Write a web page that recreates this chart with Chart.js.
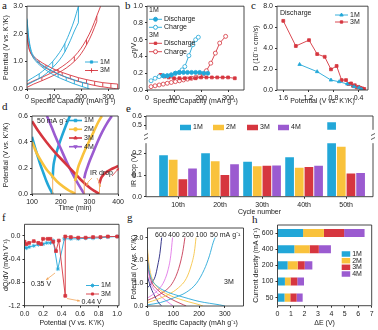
<!DOCTYPE html>
<html>
<head>
<meta charset="utf-8">
<script src="https://cdn.jsdelivr.net/npm/chart.js@4.4.1/dist/chart.umd.min.js"></script>
<style>
  body { margin: 0; background: #fff; width: 378px; height: 330px; overflow: hidden; position: relative; }
  canvas { position: absolute; }
  .lbl { position: absolute; font-family: "Liberation Serif", "Times New Roman", serif; font-size: 11px; color: #111; line-height: 11px; }
</style>
</head>
<body>
<div class="lbl" style="left:2px;top:0px">a</div>
<div class="lbl" style="left:125px;top:0px">b</div>
<div class="lbl" style="left:251px;top:0px">c</div>
<div class="lbl" style="left:2px;top:101px">d</div>
<div class="lbl" style="left:126px;top:103px">e</div>
<div class="lbl" style="left:2px;top:212px">f</div>
<div class="lbl" style="left:127px;top:212px">g</div>
<div class="lbl" style="left:252px;top:214px">h</div>
<script>
// ---- a: GITT curves (capacity, potential) ----
const aCap1D1 = [0, 4, 10, 20, 35, 55, 80, 110, 140, 170, 200, 220, 232];
const aV1D1 = [2.5, 2.0, 1.55, 1.2, 0.98, 0.8, 0.62, 0.45, 0.32, 0.2, 0.1, 0.04, 0.0];
const aCap1D2 = [0, 6, 14, 25, 40, 60, 85, 115, 145, 175, 205, 225];
const aV1D2 = [2.55, 1.9, 1.45, 1.18, 1.0, 0.85, 0.7, 0.55, 0.43, 0.33, 0.24, 0.2];
const aRung1D = [40, 60, 85, 115, 145, 175, 205, 225];
const aRung1DLo = [0.94, 0.77, 0.6, 0.43, 0.3, 0.18, 0.08, 0.02];
const aRung1DHi = [1.0, 0.85, 0.7, 0.55, 0.43, 0.33, 0.24, 0.2];
const aCap1C1 = [0, 20, 45, 70, 95, 120, 140, 160, 175, 190];
const aV1C1 = [0.15, 0.25, 0.38, 0.55, 0.78, 1.05, 1.35, 1.75, 2.1, 2.4];
const aCap1C2 = [0, 20, 45, 70, 95, 120, 140, 160, 175, 190];
const aV1C2 = [0.28, 0.4, 0.55, 0.75, 1.0, 1.32, 1.65, 2.1, 2.5, 3.0];
const aRung1C = [45, 95, 140, 190];
const aRung1CLo = [0.38, 0.78, 1.35, 2.4];
const aRung1CHi = [0.55, 1.0, 1.65, 3.0];
const aCap3D1 = [0, 3, 8, 18, 35, 60, 90, 120, 150, 180, 210, 240, 270, 300, 320, 335];
const aV3D1 = [2.0, 1.7, 1.45, 1.22, 1.02, 0.82, 0.65, 0.52, 0.4, 0.3, 0.22, 0.15, 0.09, 0.05, 0.02, 0.0];
const aCap3D2 = [0, 5, 12, 25, 45, 70, 100, 130, 160, 190, 220, 250, 280, 310, 335];
const aV3D2 = [2.1, 1.6, 1.35, 1.18, 1.02, 0.87, 0.72, 0.6, 0.5, 0.41, 0.34, 0.28, 0.23, 0.2, 0.18];
const aRung3D = [45, 70, 100, 130, 160, 190, 220, 250, 280, 310, 335];
const aRung3DLo = [0.94, 0.77, 0.61, 0.48, 0.37, 0.27, 0.2, 0.13, 0.08, 0.04, 0.0];
const aRung3DHi = [1.02, 0.87, 0.72, 0.6, 0.5, 0.41, 0.34, 0.28, 0.23, 0.2, 0.18];
const aCap3C1 = [0, 25, 55, 85, 115, 145, 175, 200, 220, 240, 258];
const aV3C1 = [0.06, 0.18, 0.3, 0.43, 0.58, 0.76, 1.0, 1.28, 1.6, 2.0, 2.45];
const aCap3C2 = [0, 25, 55, 85, 115, 145, 175, 200, 220, 240, 258, 272];
const aV3C2 = [0.18, 0.3, 0.42, 0.56, 0.72, 0.92, 1.18, 1.48, 1.8, 2.2, 2.65, 3.0];
const aRung3C = [55, 115, 175, 220, 258];
const aRung3CLo = [0.3, 0.58, 1.0, 1.6, 2.45];
const aRung3CHi = [0.42, 0.72, 1.18, 1.8, 2.65];

// ---- b: overpotential ----
const bCap1D = [60, 75, 90, 105, 120, 135, 150, 165, 180, 195, 210, 225];
const bEta1D = [0.17, 0.17, 0.18, 0.2, 0.21, 0.21, 0.21, 0.21, 0.21, 0.21, 0.2, 0.2];
const bCap1C = [15, 30, 45, 60, 75, 90, 105, 120, 130, 140, 155, 170, 180, 190];
const bEta1C = [0.11, 0.14, 0.16, 0.17, 0.17, 0.18, 0.2, 0.21, 0.24, 0.28, 0.41, 0.54, 0.6, 0.63];
const bCap3D = [50, 65, 80, 100, 120, 140, 160, 180, 200, 220, 240, 260, 280, 300, 325];
const bEta3D = [0.18, 0.16, 0.15, 0.14, 0.14, 0.14, 0.14, 0.14, 0.15, 0.15, 0.15, 0.15, 0.15, 0.15, 0.14];
const bCap3C = [15, 30, 45, 60, 75, 90, 105, 120, 135, 150, 165, 180, 195, 208, 220, 236, 253, 269, 291];
const bEta3C = [0.04, 0.05, 0.06, 0.07, 0.08, 0.09, 0.1, 0.11, 0.12, 0.13, 0.14, 0.15, 0.17, 0.19, 0.23, 0.32, 0.44, 0.56, 0.64];

// ---- c: diffusion coefficient ----
const cV1 = [1.34, 1.06, 0.84, 0.71, 0.58, 0.47, 0.39, 0.35];
const cD1 = [2.44, 1.75, 0.95, 0.79, 0.57, 0.32, 0.22, 0.06];
const cV3 = [1.6, 1.4, 1.19, 1.06, 0.94, 0.84, 0.75, 0.67, 0.6, 0.56, 0.52, 0.49, 0.46, 0.43, 0.4, 0.37, 0.34, 0.31];
const cD3 = [6.6, 4.2, 4.76, 3.43, 3.17, 1.97, 2.29, 0.95, 0.95, 0.57, 0.63, 0.4, 0.45, 0.25, 0.3, 0.2, 0.15, 0.1];

// ---- d: time vs potential ----
const dT1D = [100, 110, 120, 130, 140, 150, 160, 172];
const dV1D = [0.44, 0.36, 0.29, 0.22, 0.16, 0.1, 0.05, 0.0];
const dT1C = [172, 174, 178, 188, 200, 215, 232];
const dV1C = [0.12, 0.2, 0.26, 0.34, 0.42, 0.51, 0.6];
const dT2D = [100, 115, 130, 150, 170, 190, 210, 230, 245, 250];
const dV2D = [0.4, 0.32, 0.26, 0.19, 0.14, 0.09, 0.055, 0.025, 0.008, 0.0];
const dT2C = [250, 255, 260, 270, 285, 300, 315, 330, 343];
const dV2C = [0.1, 0.15, 0.2, 0.26, 0.34, 0.41, 0.48, 0.55, 0.6];
const dT3D = [100, 120, 150, 180, 210, 240, 270, 300, 320, 335];
const dV3D = [0.56, 0.49, 0.4, 0.32, 0.25, 0.18, 0.11, 0.05, 0.02, 0.0];
const dT3C = [335, 340, 350, 360, 375, 390, 400];
const dV3C = [0.08, 0.12, 0.15, 0.17, 0.19, 0.205, 0.215];
const dT4D = [152, 160, 180, 200, 220, 240, 260, 275, 282];
const dV4D = [0.6, 0.56, 0.45, 0.35, 0.25, 0.16, 0.08, 0.025, 0.0];
const dT4C = [282, 286, 292, 300, 315, 330, 345, 360, 378];
const dV4C = [0.12, 0.16, 0.2, 0.25, 0.33, 0.41, 0.48, 0.54, 0.6];
const dIrT = [172, 250, 282, 335];
const dIrTop = [0.12, 0.1, 0.12, 0.08];

// ---- e: IR drop bars ----
const eCycles = ['10th', '20th', '30th', '40th', '50th'];
const e1M = [0.192, 0.201, 0.162, 0.183, 0.531];
const e2M = [0.171, 0.164, 0.141, 0.134, 0.231];
const e3M = [0.081, 0.101, 0.144, 0.138, 0.108];
const e4M = [0.131, 0.150, 0.145, 0.143, 0.110];

// ---- f: dQ/dV ----
const fV1 = [0, 0.02, 0.05, 0.1, 0.15, 0.2, 0.24, 0.28, 0.31, 0.36, 0.43, 0.5, 0.58, 0.66, 0.74, 0.82, 0.9, 1.0];
const fQ1 = [-0.2, -0.21, -0.19, -0.17, -0.15, -0.14, -0.12, -0.12, -0.08, -0.57, -0.05, -0.05, -0.05, -0.04, -0.04, -0.03, -0.02, -0.01];
const fV3 = [0, 0.02, 0.05, 0.1, 0.15, 0.18, 0.2, 0.25, 0.28, 0.31, 0.34, 0.37, 0.44, 0.44, 0.5, 0.58, 0.66, 0.74, 0.82, 0.9, 1.0];
const fQ3 = [-0.1, -0.14, -0.12, -0.09, -0.12, -0.14, -0.05, -0.05, -0.05, -0.1, -0.26, -0.08, -1.03, -0.01, -0.02, -0.03, -0.03, -0.02, -0.02, -0.01, -0.01];

// ---- g: rate curves, 3M ----
const gRates = ['600', '400', '200', '100', '50'];
const g600DC = [0, 10, 25, 40, 50, 55], g600DV = [1.3, 0.9, 0.5, 0.2, 0.05, 0.0];
const g600CC = [0, 15, 30, 40, 48, 55], g600CV = [0.8, 1.0, 1.3, 1.8, 2.3, 3.0];
const g400DC = [0, 5, 15, 40, 70, 90, 100], g400DV = [2.0, 1.4, 0.95, 0.55, 0.25, 0.08, 0.0];
const g400CC = [0, 20, 45, 65, 80, 90, 97], g400CV = [0.35, 0.5, 0.75, 1.1, 1.6, 2.2, 3.0];
const g200DC = [0, 5, 15, 40, 80, 110, 140, 150], g200DV = [2.3, 1.6, 1.1, 0.7, 0.38, 0.2, 0.05, 0.0];
const g200CC = [0, 30, 60, 90, 110, 125, 137, 145], g200CV = [0.25, 0.4, 0.6, 0.9, 1.3, 1.8, 2.4, 3.0];
const g100DC = [0, 5, 15, 40, 80, 120, 160, 200, 215], g100DV = [2.5, 1.9, 1.3, 0.8, 0.5, 0.32, 0.18, 0.06, 0.0];
const g100CC = [0, 40, 80, 120, 150, 170, 182, 188], g100CV = [0.15, 0.3, 0.5, 0.8, 1.2, 1.8, 2.4, 3.0];
const g50DC = [0, 5, 15, 40, 80, 120, 160, 200, 240, 280, 300], g50DV = [2.0, 1.6, 1.2, 0.85, 0.6, 0.45, 0.32, 0.2, 0.12, 0.05, 0.0];
const g50CC = [0, 50, 100, 150, 190, 220, 240, 255, 262], g50CV = [0.05, 0.15, 0.35, 0.6, 1.0, 1.6, 2.2, 2.8, 3.0];

// ---- h: ΔE stacked bars ----
const hRates = ['600', '400', '200', '100', '50'];
const h1M = [1.9, 1.25, 0.75, 0.55, 0.52];
const h2M = [1.55, 1.14, 0.75, 0.42, 0.43];
const h3M = [1.5, 0.68, 0.52, 0.5, 0.47];
const h4M = [1.52, 0.9, 0.57, 0.5, 0.45];

const C1 = '#22a7d8', C2 = '#f9c23c', C3 = '#d6363f', C4 = '#9b5bd0';
const FONT = '"Liberation Sans", Arial, sans-serif';
Chart.defaults.font.family = FONT;
Chart.defaults.font.size = 7;
Chart.defaults.color = '#222';

function xy(xs, ys) { return xs.map((x, i) => ({x: x, y: ys[i]})); }
function rungs(xs, lo, hi) {
  const out = [];
  xs.forEach((x, i) => { out.push({x: x, y: lo[i]}, {x: x, y: hi[i]}, {x: x, y: null}); });
  return out;
}
function vsegs(xs, tops) {
  const out = [];
  xs.forEach((x, i) => { out.push({x: x, y: 0}, {x: x, y: tops[i]}, {x: x, y: null}); });
  return out;
}

function lin(min, max, ticks, title, dec, extra) {
  return Object.assign({
    type: 'linear', min: min, max: max, offset: false,
    afterBuildTicks: s => { s.ticks = ticks.map(v => ({value: v})); },
    ticks: {padding: 2, callback: v => Number(v).toFixed(dec)},
    grid: {drawOnChartArea: false, tickLength: 2, color: '#333', offset: false},
    border: {display: false},
    title: {display: !!title, text: title, padding: {top: 2, bottom: 0}}
  }, extra || {});
}

function drawItem(c, it) {
  const col = it.color || '#222';
  c.save();
  c.strokeStyle = col; c.fillStyle = col;
  c.lineWidth = it.lw || 0.9;
  c.font = (it.size || 7) + 'px ' + FONT;
  c.textBaseline = 'middle';
  if (it.t === 'text') {
    c.textAlign = it.align || 'left';
    c.fillText(it.s, it.x, it.y);
  } else if (it.t === 'key') {
    const len = it.len || 13;
    c.beginPath(); c.moveTo(it.x, it.y); c.lineTo(it.x + len, it.y); c.stroke();
    if (it.marker) {
      c.lineWidth = 0.9;
      c.fillStyle = it.open ? '#fff' : col;
      Chart.helpers.drawPoint(c, {pointStyle: it.marker, radius: it.r || 2, rotation: it.rot || 0, borderWidth: 0.9}, it.x + len / 2, it.y);
    }
    c.fillStyle = '#222'; c.textAlign = 'left';
    c.fillText(it.s, it.x + len + 2, it.y);
  } else if (it.t === 'swatch') {
    c.fillRect(it.x, it.y - it.h / 2, it.w, it.h);
    c.fillStyle = '#222'; c.textAlign = 'left';
    c.fillText(it.s, it.x + it.w + 2, it.y);
  } else if (it.t === 'arrow' || it.t === 'seg') {
    const p = it.pts;
    c.beginPath(); c.moveTo(p[0][0], p[0][1]);
    for (let i = 1; i < p.length; i++) c.lineTo(p[i][0], p[i][1]);
    c.stroke();
    if (it.t === 'arrow') {
      const a = p[p.length - 2], b = p[p.length - 1];
      const ang = Math.atan2(b[1] - a[1], b[0] - a[0]);
      c.beginPath();
      c.moveTo(b[0], b[1]);
      c.lineTo(b[0] - 3 * Math.cos(ang - 0.45), b[1] - 3 * Math.sin(ang - 0.45));
      c.lineTo(b[0] - 3 * Math.cos(ang + 0.45), b[1] - 3 * Math.sin(ang + 0.45));
      c.closePath(); c.fill();
    }
  }
  c.restore();
}

function makeDeco(spec, box) {
  return {
    id: 'deco',
    afterDatasetsDraw(chart) {
      const c = chart.ctx, a = chart.chartArea;
      const f = spec.frame === undefined ? 'ltrb' : spec.frame;
      c.save();
      c.strokeStyle = '#333'; c.lineWidth = 0.9;
      c.beginPath();
      if (f.includes('l')) { c.moveTo(a.left, a.top); c.lineTo(a.left, a.bottom); }
      if (f.includes('r')) { c.moveTo(a.right, a.top); c.lineTo(a.right, a.bottom); }
      if (f.includes('t')) { c.moveTo(a.left, a.top); c.lineTo(a.right, a.top); }
      if (f.includes('b')) { c.moveTo(a.left, a.bottom); c.lineTo(a.right, a.bottom); }
      c.stroke();
      c.translate(-box.x, -box.y);
      (spec.items || []).forEach(it => drawItem(c, it));
      c.restore();
    }
  };
}

function panel(box, plot, cfg, spec) {
  const cv = document.createElement('canvas');
  cv.width = box.w; cv.height = box.h;
  Object.assign(cv.style, {left: box.x + 'px', top: box.y + 'px', width: box.w + 'px', height: box.h + 'px'});
  document.body.appendChild(cv);
  const o = cfg.options;
  o.responsive = false; o.animation = false;
  o.layout = {padding: {left: 0, bottom: 0, top: plot.t - box.y, right: box.x + box.w - plot.r}};
  if (o.scales.x.display !== false) o.scales.x.afterFit = s => { s.height = box.y + box.h - plot.b; };
  else o.layout.padding.bottom = box.y + box.h - plot.b;
  o.scales.y.afterFit = s => { s.width = plot.l - box.x; };
  o.plugins = {legend: {display: false}, tooltip: {enabled: false}};
  cfg.plugins = [makeDeco(spec || {}, box)];
  return new Chart(cv, cfg);
}

const thin = {borderWidth: 0.9, pointRadius: 0, fill: false};
const smooth = Object.assign({cubicInterpolationMode: 'monotone'}, thin);
const capTitle = 'Specific Capacity (mAh g⁻¹)';
const potTitle = 'Potential (V vs. K⁺/K)';

// ---- panel a ----
panel({x: 0, y: 0, w: 125, h: 105}, {l: 27, t: 6, r: 119, b: 89}, {
  type: 'line',
  data: {datasets: [
    Object.assign({data: xy(aCap1D1, aV1D1), borderColor: C1}, smooth),
    Object.assign({data: xy(aCap1D2, aV1D2), borderColor: C1}, smooth),
    Object.assign({data: rungs(aRung1D, aRung1DLo, aRung1DHi), borderColor: C1}, thin),
    Object.assign({data: xy(aCap1C1, aV1C1), borderColor: C1}, smooth),
    Object.assign({data: xy(aCap1C2, aV1C2), borderColor: C1}, smooth),
    Object.assign({data: rungs(aRung1C, aRung1CLo, aRung1CHi), borderColor: C1}, thin),
    Object.assign({data: xy(aCap3D1, aV3D1), borderColor: C3}, smooth),
    Object.assign({data: xy(aCap3D2, aV3D2), borderColor: C3}, smooth),
    Object.assign({data: rungs(aRung3D, aRung3DLo, aRung3DHi), borderColor: C3}, thin),
    Object.assign({data: xy(aCap3C1, aV3C1), borderColor: C3}, smooth),
    Object.assign({data: xy(aCap3C2, aV3C2), borderColor: C3}, smooth),
    Object.assign({data: rungs(aRung3C, aRung3CLo, aRung3CHi), borderColor: C3}, thin)
  ]},
  options: {scales: {
    x: lin(0, 340, [0, 100, 200, 300], capTitle, 0),
    y: lin(0, 3.0, [0, 1, 2, 3], potTitle, 1)
  }}
}, {items: [
  {t: 'key', x: 85, y: 62, color: C1, marker: 'rect', r: 1.6, s: '1M'},
  {t: 'key', x: 85, y: 70.5, color: C3, marker: 'cross', r: 2.2, s: '3M'}
]});

// ---- panel b ----
const mk = {borderWidth: 0.9, pointRadius: 2, pointBorderWidth: 0.8, fill: false};
panel({x: 128, y: 0, w: 122, h: 105}, {l: 147, t: 6, r: 244, b: 90}, {
  type: 'line',
  data: {datasets: [
    Object.assign({data: xy(bCap1D, bEta1D), borderColor: C1, backgroundColor: C1, pointStyle: 'circle'}, mk),
    Object.assign({data: xy(bCap1C, bEta1C), borderColor: C1, backgroundColor: '#fff', pointStyle: 'circle'}, mk),
    Object.assign({data: xy(bCap3D, bEta3D), borderColor: C3, backgroundColor: C3, pointStyle: 'rect', pointRadius: 1.7}, mk),
    Object.assign({data: xy(bCap3C, bEta3C), borderColor: C3, backgroundColor: '#fff', pointStyle: 'circle'}, mk)
  ]},
  options: {scales: {
    x: lin(0, 359, [0, 100, 200, 300], capTitle, 0),
    y: lin(0, 1.0, [0, 0.2, 0.4, 0.6, 0.8, 1.0], 'η/V', 1)
  }}
}, {items: [
  {t: 'text', x: 149, y: 10, s: '1M'},
  {t: 'key', x: 149, y: 19.3, color: C1, marker: 'circle', r: 2, s: 'Discharge'},
  {t: 'key', x: 149, y: 27.3, color: C1, marker: 'circle', open: true, r: 2, s: 'Charge'},
  {t: 'text', x: 149, y: 35, s: '3M'},
  {t: 'key', x: 149, y: 43.3, color: C3, marker: 'rect', r: 1.7, s: 'Discharge'},
  {t: 'key', x: 149, y: 51.7, color: C3, marker: 'circle', open: true, r: 2, s: 'Charge'}
]});

// ---- panel c ----
panel({x: 250, y: 0, w: 128, h: 105}, {l: 277, t: 6, r: 368, b: 90}, {
  type: 'line',
  data: {datasets: [
    Object.assign({data: xy(cV1, cD1), borderColor: C1, backgroundColor: C1, pointStyle: 'triangle'}, mk),
    Object.assign({data: xy(cV3, cD3), borderColor: C3, backgroundColor: C3, pointStyle: 'rect', pointRadius: 1.7}, mk)
  ]},
  options: {scales: {
    x: lin(0.25, 1.7, [1.6, 1.2, 0.8, 0.4], potTitle, 1, {reverse: true}),
    y: lin(0, 8, [0, 2, 4, 6, 8], 'D (10⁻¹¹ cm²/s)', 1)
  }}
}, {items: [
  {t: 'text', x: 280, y: 13.5, s: 'Discharge'},
  {t: 'key', x: 335, y: 15, color: C1, marker: 'triangle', r: 2, s: '1M'},
  {t: 'key', x: 335, y: 22, color: C3, marker: 'rect', r: 1.7, s: '3M'}
]});

// ---- panel d ----
const thick = {borderWidth: 2.6, pointRadius: 0, fill: false, cubicInterpolationMode: 'monotone'};
const dx = t => 32 + (t - 100) * 88 / 300;
panel({x: 0, y: 106, w: 126, h: 106}, {l: 32, t: 116, r: 120, b: 194}, {
  type: 'line',
  data: {datasets: [
    Object.assign({data: vsegs(dIrT, dIrTop), borderColor: '#f2a65a', borderWidth: 0.9, pointRadius: 0}),
    Object.assign({data: xy(dT2D, dV2D), borderColor: C2}, thick),
    Object.assign({data: xy(dT2C, dV2C), borderColor: C2}, thick),
    Object.assign({data: xy(dT3D, dV3D), borderColor: C3}, thick),
    Object.assign({data: xy(dT3C, dV3C), borderColor: C3}, thick),
    Object.assign({data: xy(dT4D, dV4D), borderColor: C4}, thick),
    Object.assign({data: xy(dT4C, dV4C), borderColor: C4}, thick),
    Object.assign({data: xy(dT1D, dV1D), borderColor: C1}, thick),
    Object.assign({data: xy(dT1C, dV1C), borderColor: C1}, thick)
  ]},
  options: {scales: {
    x: lin(100, 400, [100, 200, 300, 400], 'Time (min)', 0),
    y: lin(0, 0.6, [0, 0.2, 0.4, 0.6], potTitle, 1)
  }}
}, {items: [
  {t: 'text', x: 37, y: 121.5, s: '50 mA g⁻¹'},
  {t: 'key', x: 69, y: 120.5, len: 13, lw: 1.6, color: C1, marker: 'rect', r: 1.8, s: '1M'},
  {t: 'key', x: 69, y: 129.3, len: 13, lw: 1.6, color: C2, marker: 'circle', r: 1.8, s: '2M'},
  {t: 'key', x: 69, y: 138, len: 13, lw: 1.6, color: C3, marker: 'triangle', r: 2, s: '3M'},
  {t: 'key', x: 69, y: 146.7, len: 13, lw: 1.6, color: C4, marker: 'triangle', rot: 180, r: 2, s: '4M'},
  {t: 'text', x: 90, y: 173.5, s: 'IR drop'},
  {t: 'arrow', color: '#f2a65a', lw: 0.8, pts: [[92, 178], [88, 182], [dx(283) + 1, 186]]},
  {t: 'arrow', color: '#f2a65a', lw: 0.8, pts: [[97, 178], [99, 182], [dx(335) - 0.5, 187]]},
  {t: 'arrow', color: C3, lw: 0.8, pts: [[112, 176], [119, 168]]}
]});

// ---- panel e (broken axis: two stacked charts) ----
function eSets() {
  const bar = {borderWidth: 0, barPercentage: 0.9, categoryPercentage: 0.92};
  return [
    Object.assign({data: eCycles.map((c, i) => ({x: i + 1, y: e1M[i]})), backgroundColor: C1}, bar),
    Object.assign({data: eCycles.map((c, i) => ({x: i + 1, y: e2M[i]})), backgroundColor: C2}, bar),
    Object.assign({data: eCycles.map((c, i) => ({x: i + 1, y: e3M[i]})), backgroundColor: C3}, bar),
    Object.assign({data: eCycles.map((c, i) => ({x: i + 1, y: e4M[i]})), backgroundColor: C4}, bar)
  ];
}
const eX = () => lin(0.238, 5.64, [1, 2, 3, 4, 5], 'Cycle number', 0, {ticks: {padding: 2, callback: v => eCycles[v - 1]}});
panel({x: 128, y: 106, w: 250, h: 30}, {l: 146, t: 116, r: 373, b: 136}, {
  type: 'bar',
  data: {datasets: eSets()},
  options: {scales: {
    x: Object.assign(eX(), {display: false}),
    y: lin(0.45, 0.6, [0.5, 0.6], '', 1)
  }}
}, {frame: 'lrt', items: [
  {t: 'swatch', x: 180, y: 127.5, w: 11, h: 5.5, color: C1, s: '1M'},
  {t: 'swatch', x: 213, y: 127.5, w: 11, h: 5.5, color: C2, s: '2M'},
  {t: 'swatch', x: 247, y: 127.5, w: 11, h: 5.5, color: C3, s: '3M'},
  {t: 'swatch', x: 278, y: 127.5, w: 11, h: 5.5, color: C4, s: '4M'},
  {t: 'seg', color: '#333', lw: 0.8, pts: [[144, 135.5], [148, 133.5]]},
  {t: 'seg', color: '#333', lw: 0.8, pts: [[371, 135.5], [375, 133.5]]}
]});
panel({x: 128, y: 137, w: 250, h: 79}, {l: 146, t: 137.5, r: 373, b: 196.7}, {
  type: 'bar',
  data: {datasets: eSets()},
  options: {scales: {
    x: eX(),
    y: lin(0, 0.248, [0, 0.1, 0.2], 'IR drop (V)', 1)
  }}
}, {frame: 'lrb', items: [
  {t: 'seg', color: '#333', lw: 0.8, pts: [[144, 139.5], [148, 137.5]]},
  {t: 'seg', color: '#333', lw: 0.8, pts: [[371, 139.5], [375, 137.5]]}
]});

// ---- panel f ----
panel({x: 0, y: 215, w: 125, h: 115}, {l: 24.5, t: 224.3, r: 119, b: 305.7}, {
  type: 'line',
  data: {datasets: [
    Object.assign({data: xy(fV3, fQ3), borderColor: C3, backgroundColor: C3, pointStyle: 'rect', pointRadius: 1.4}, mk),
    Object.assign({data: xy(fV1, fQ1), borderColor: C1, backgroundColor: C1, pointStyle: 'star', pointRadius: 2}, mk)
  ]},
  options: {scales: {
    x: lin(0, 1.02, [0, 0.2, 0.4, 0.6, 0.8, 1.0], potTitle, 1, {title: {display: true, text: potTitle, padding: {top: 0, bottom: 3}}}),
    y: lin(-1.2, 0.2, [0, -0.4, -0.8, -1.2], 'dQ/dV (mAh V⁻¹)', 1)
  }}
}, {items: [
  {t: 'key', x: 86, y: 285.5, color: C1, marker: 'star', r: 2, s: '1M'},
  {t: 'key', x: 86, y: 294, color: C3, marker: 'rect', r: 1.5, s: '3M'},
  {t: 'arrow', color: '#f2a65a', lw: 0.8, pts: [[55, 273], [46, 280]]},
  {t: 'text', x: 41, y: 284.5, s: '0.35 V', align: 'center'},
  {t: 'arrow', color: '#f2a65a', lw: 0.8, pts: [[67, 298.5], [80, 301]]},
  {t: 'text', x: 81.5, y: 302, s: '0.44 V'}
]});

// ---- panel g ----
const gCol = {'600': '#23237e', '400': '#e176e6', '200': '#c73a55', '100': '#f6c445', '50': '#2aa9d9'};
const gD = {'600': [g600DC, g600DV], '400': [g400DC, g400DV], '200': [g200DC, g200DV], '100': [g100DC, g100DV], '50': [g50DC, g50DV]};
const gC = {'600': [g600CC, g600CV], '400': [g400CC, g400CV], '200': [g200CC, g200CV], '100': [g100CC, g100CV], '50': [g50CC, g50CV]};
const gSets = [];
gRates.slice().reverse().forEach(r => {
  gSets.push(Object.assign({data: xy(gD[r][0], gD[r][1]), borderColor: gCol[r]}, smooth));
  gSets.push(Object.assign({data: xy(gC[r][0], gC[r][1]), borderColor: gCol[r]}, smooth));
});
panel({x: 128, y: 215, w: 122, h: 115}, {l: 147.5, t: 228, r: 243.5, b: 306}, {
  type: 'line',
  data: {datasets: gSets},
  options: {scales: {
    x: lin(0, 372, [0, 100, 200, 300], capTitle, 0, {title: {display: true, text: capTitle, padding: {top: 0, bottom: 3}}}),
    y: lin(0, 3.42, [0, 1, 2, 3], potTitle, 1)
  }}
}, {items: [
  {t: 'text', x: 155, y: 235.5, s: '600'},
  {t: 'text', x: 168, y: 235.5, s: '400'},
  {t: 'text', x: 182, y: 235.5, s: '200'},
  {t: 'text', x: 195.5, y: 235.5, s: '100'},
  {t: 'text', x: 210, y: 235.5, s: '50 mA g⁻¹'},
  {t: 'text', x: 224, y: 282, s: '3M'}
]});

// ---- panel h ----
const hBar = {borderWidth: 0, barPercentage: 0.5, categoryPercentage: 1};
panel({x: 250, y: 215, w: 128, h: 115}, {l: 277.5, t: 225, r: 371.7, b: 305.7}, {
  type: 'bar',
  data: {labels: hRates, datasets: [
    Object.assign({data: h1M, backgroundColor: C1}, hBar),
    Object.assign({data: h2M, backgroundColor: C2}, hBar),
    Object.assign({data: h3M, backgroundColor: C3}, hBar),
    Object.assign({data: h4M, backgroundColor: C4}, hBar)
  ]},
  options: {indexAxis: 'y', scales: {
    x: lin(0, 7, [0, 1, 2, 3, 4, 5, 6, 7], 'ΔE (V)', 0, {stacked: true, title: {display: true, text: 'ΔE (V)', padding: {top: 0, bottom: 3}}}),
    y: {type: 'category', stacked: true,
        ticks: {padding: 2},
        grid: {drawOnChartArea: false, tickLength: 2, color: '#333', offset: false},
        border: {display: false},
        title: {display: true, text: 'Current density (mA g⁻¹)', padding: {top: 2, bottom: 0}}}
  }}
}, {items: [
  {t: 'swatch', x: 341.7, y: 254, w: 8.5, h: 5.5, color: C1, s: '1M'},
  {t: 'swatch', x: 341.7, y: 260.7, w: 8.5, h: 5.5, color: C2, s: '2M'},
  {t: 'swatch', x: 341.7, y: 267.3, w: 8.5, h: 5.5, color: C3, s: '3M'},
  {t: 'swatch', x: 341.7, y: 274, w: 8.5, h: 5.5, color: C4, s: '4M'}
]});
</script>
</body>
</html>
